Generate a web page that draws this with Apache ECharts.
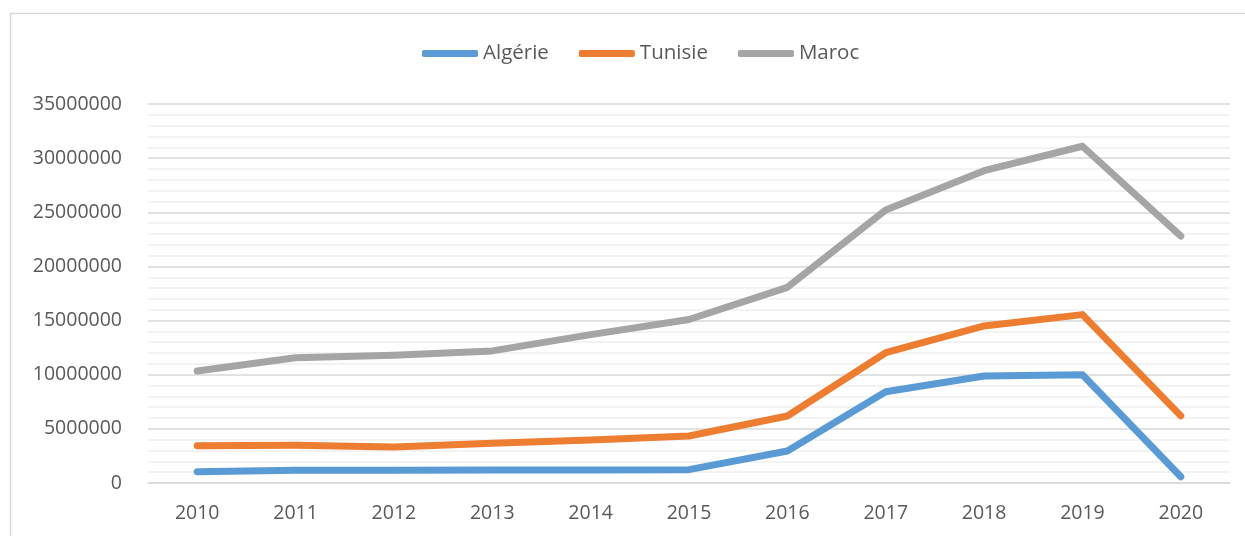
<!DOCTYPE html>
<html>
<head>
<meta charset="utf-8">
<script src="https://cdn.jsdelivr.net/npm/echarts@6/dist/echarts.min.js"></script>
<style>
html,body{margin:0;padding:0;background:#fff;}
#chart{width:1245px;height:536px;}
</style>
</head>
<body>
<div id="chart"></div>
<script>
const years = ['2010','2011','2012','2013','2014','2015','2016','2017','2018','2019','2020'];
const algerie = [1050000, 1170000, 1180000, 1200000, 1210000, 1230000, 2950000, 8430000, 9880000, 10000000, 580000];
const tunisie = [3450000, 3480000, 3320000, 3670000, 3970000, 4340000, 6190000, 12030000, 14500000, 15550000, 6200000];
const maroc = [10340000, 11570000, 11800000, 12200000, 13700000, 15100000, 18070000, 25200000, 28840000, 31100000, 22800000];
const seriesNames = ['Algérie', 'Tunisie', 'Maroc'];
const colors = ['#5b9bd5', '#ed7d31', '#a5a5a5'];

const chart = echarts.init(document.getElementById('chart'), null, {renderer: 'canvas'});
const font = "'Open Sans', 'Noto Sans', sans-serif";
const mk = (name, data, color) => ({
  name: name, type: 'line', data: data, symbol: 'none', smooth: false,
  lineStyle: {width: 7, color: color, cap: 'round', join: 'round'},
  itemStyle: {color: color}
});
chart.setOption({
  animation: false,
  color: colors,
  graphic: [{
    type: 'rect', shape: {x: 10.5, y: 13.5, width: 1250, height: 540},
    style: {fill: 'none', stroke: '#d9d9d9', lineWidth: 1.5}, silent: true
  }],
  legend: {
    top: 38, left: 417, itemWidth: 56, itemHeight: 7, itemGap: 30,
    icon: 'roundRect',
    textStyle: {fontFamily: font, fontSize: 20.5, color: '#595959'},
    data: seriesNames
  },
  grid: {left: 148, right: 15, top: 104, bottom: 53, containLabel: false},
  xAxis: {
    type: 'category', data: years, boundaryGap: true,
    axisLine: {lineStyle: {color: '#d9d9d9', width: 1.5}},
    axisTick: {show: false},
    axisLabel: {fontFamily: font, fontSize: 19.5, color: '#595959', margin: 20}
  },
  yAxis: {
    type: 'value', min: 0, max: 35000000, interval: 5000000,
    axisLine: {show: false}, axisTick: {show: false},
    axisLabel: {fontFamily: font, fontSize: 19.5, color: '#595959', margin: 26,
      formatter: function (v) { return String(v); }},
    splitLine: {lineStyle: {color: '#d9d9d9', width: 1.5}},
    minorTick: {show: false, splitNumber: 5},
    minorSplitLine: {show: true, lineStyle: {color: '#f0f0f0', width: 1.5}}
  },
  series: [
    mk(seriesNames[0], algerie, colors[0]),
    mk(seriesNames[1], tunisie, colors[1]),
    mk(seriesNames[2], maroc, colors[2])
  ]
});
</script>
</body>
</html>
